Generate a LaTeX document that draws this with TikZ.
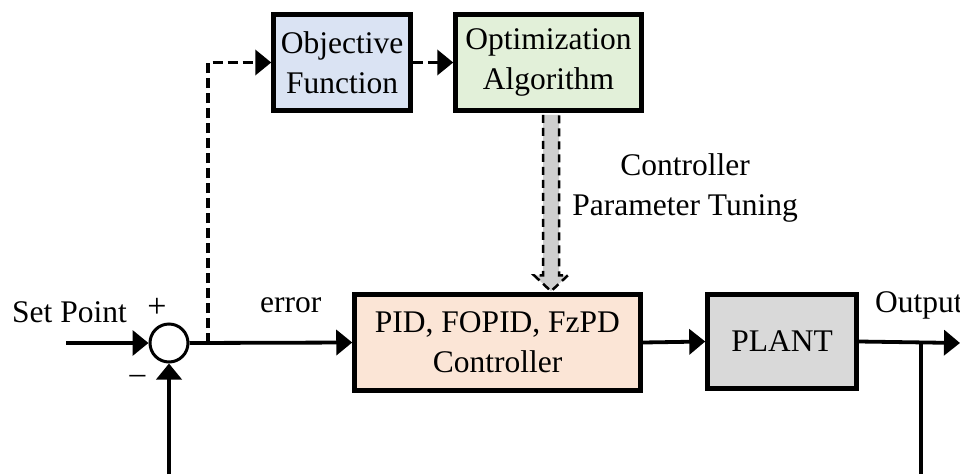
\documentclass[tikz,border=0pt]{standalone}
\usepackage{fontspec}
\setmainfont{Liberation Serif}
\usetikzlibrary{arrows.meta,calc}

\definecolor{objfill}{HTML}{DAE3F3}
\definecolor{optfill}{HTML}{E2F0D9}
\definecolor{ctrlfill}{HTML}{FBE5D6}
\definecolor{plantfill}{HTML}{D9D9D9}
\definecolor{tunefill}{HTML}{CFCFCF}

\tikzset{
  txt/.style={font=\fontsize{31.5}{40}\selectfont, inner sep=0pt},
  block/.style={txt, draw, line width=4.5pt, align=center},
  sumnode/.style={circle, draw, line width=3pt, fill=white, minimum size=38pt, inner sep=0pt},
  sig/.style={line width=3.8pt, -{Triangle[length=16pt,width=25pt]}},
  wire/.style={line width=3.8pt},
  dashsig/.style={sig, dash pattern=on 10pt off 5pt},
}

\begin{document}
\begin{tikzpicture}[x=1pt,y=-1pt]
\useasboundingbox (0,0) rectangle (960,474);

% blocks
\node[block, fill=objfill, minimum width=137pt, minimum height=96pt] (obj) at (342,62.5) {Objective\\Function};
\node[block, fill=optfill, minimum width=186pt, minimum height=96pt] (opt) at (548.5,62.5) {Optimization\\Algorithm};
\node[block, fill=ctrlfill, minimum width=286pt, minimum height=96pt] (ctrl) at (497.5,342.5) {PID, FOPID, FzPD\\Controller};
\node[block, fill=plantfill, minimum width=149pt, minimum height=94pt] (plant) at (782,341.5) {PLANT};

% summing junction
\node[sumnode] (sum) at (169,343) {};

% labels
\node[txt, anchor=base west] (lsp) at (12,322) {Set Point};
\node[txt, font=\fontsize{34}{40}\selectfont] (lplus) at (157,308) {+};
\node[txt] (lminus) at (137.5,379) {–};
\node[txt, anchor=base west] (lerr) at (260,312) {error};
\node[txt, anchor=base west] (lout) at (875,312) {Output};
\node[txt, align=center] (ltune) at (685,188) {Controller\\Parameter Tuning};

% free ends
\coordinate (in) at (66,343);
\coordinate (br) at (208,343);
\coordinate (tap) at (921,343);
\coordinate (out) at (960,343);
\coordinate (fbend) at (921,474);
\coordinate (fbin) at (169,474);

% main path
\draw[sig] (in) -- (sum.west);
\draw[sig] (sum.east) -- (ctrl.west);
\draw[sig] (ctrl.east) -- (plant.west);
\draw[sig] (plant.east) -- (out);
\draw[wire] (tap) -- (fbend);
\draw[sig] (fbin) -- (sum.south);

% tuning loop
\draw[dashsig] (br) |- (obj.west);
\draw[dashsig] (obj.east) -- (opt.west);

% tuning arrow from the optimizer down onto the controller
\coordinate (ta) at ($(opt.south)+(2.5,2)$);
\filldraw[fill=tunefill, draw=black, line width=2.5pt, dash pattern=on 8pt off 5pt, line join=miter]
  ($(ta)+(-8,0)$) -- ($(ctrl.north -| ta)+(-8,-17)$) -- ($(ctrl.north -| ta)+(-17,-17)$)
  -- ($(ctrl.north -| ta)+(0,-1)$) -- ($(ctrl.north -| ta)+(17,-17)$)
  -- ($(ctrl.north -| ta)+(8,-17)$) -- ($(ta)+(8,0)$);
\end{tikzpicture}
\end{document}
